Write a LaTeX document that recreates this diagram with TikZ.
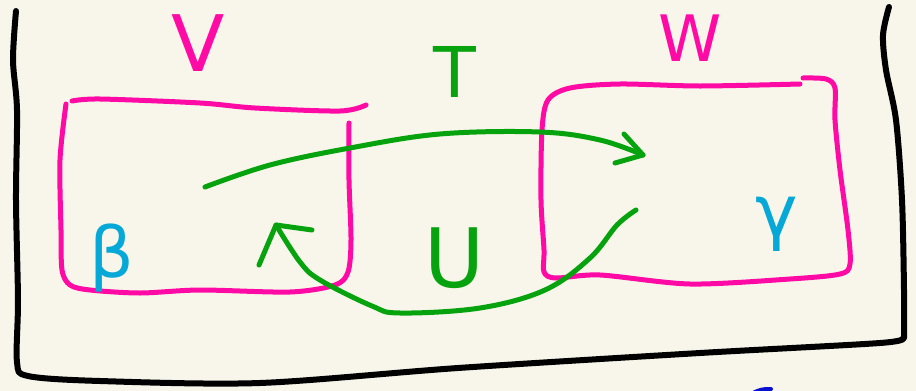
\documentclass[tikz,border=0pt]{standalone}
\usepackage{fontspec}
\setmainfont{DejaVu Sans}
\definecolor{paper}{HTML}{F8F6EA}
\definecolor{pinkink}{HTML}{FF0AA5}
\definecolor{greenink}{HTML}{07A30F}
\definecolor{blueink}{HTML}{05A8D6}
\definecolor{navyink}{HTML}{0A10D0}
\begin{document}
\begin{tikzpicture}[x=1pt,y=-1pt,line cap=round,line join=round,
  frame/.style={draw=black,line width=6pt},
  setbox/.style={draw=pinkink,line width=5pt},
  flow/.style={draw=greenink,line width=5pt},
  pinklabel/.style={text=pinkink,inner sep=0pt},
  greenlabel/.style={text=greenink,inner sep=0pt},
  bluelabel/.style={text=blueink,inner sep=0pt}]
\fill[paper] (0,0) rectangle (916,391);
\useasboundingbox (0,0) rectangle (916,391);
% outer frame
\draw[frame] plot[smooth,tension=0.5] coordinates {(16,11) (13,60) (17,110) (16,200) (18,300) (17,362) (28,376) (100,381) (260,383) (458,368) (700,353) (880,343) (903,338)};
\draw[frame] plot[smooth,tension=0.5] coordinates {(889,7) (883,35) (886,70) (896,120) (902,200) (904,290) (904,338)};
% set V
\draw[setbox] plot[smooth,tension=0.5] coordinates {(72,101) (100,99) (200,103) (255,108) (340,111) (366,105)};
\draw[setbox] plot[smooth,tension=0.5] coordinates {(66,104) (60,160) (61,230) (62,270) (70,285) (90,290) (140,293) (200,290) (290,292) (335,285) (348,272) (351,240) (349,180) (349,123)};
% set W
\draw[setbox] plot[smooth,tension=0.5] coordinates {(800,84) (700,86) (620,84) (570,88) (548,100) (542,130) (541,200) (544,250) (544,272) (556,278) (600,275) (690,284) (790,279) (840,274) (850,264) (848,230) (840,170) (835,120) (835,88) (826,79) (803,78)};
% labels
\node[pinklabel,font=\fontsize{78}{78}\selectfont] (v) at (198,43) {V};
\node[pinklabel,font=\fontsize{64}{64}\selectfont] (w) at (690,38) {W};
\node[greenlabel,font=\fontsize{70}{70}\selectfont] (t) at (455,72) {T};
\node[greenlabel,font=\fontsize{82}{82}\selectfont] (u) at (455,258) {U};
\node[bluelabel,font=\fontsize{70}{70}\selectfont] (b) at (112,258) {β};
\node[bluelabel,font=\fontsize{72}{72}\selectfont] (g) at (777,224) {γ};
% arrow V -> W
\coordinate (a1s) at (205,187);
\coordinate (a1t) at (643,155);
\draw[flow] plot[smooth,tension=0.6] coordinates {(a1s) (270,165) (350,148) (440,134) (540,132) (600,140) (a1t)};
\draw[flow] (624,134) -- (a1t) -- (615,163);
% arrow W -> V
\coordinate (a2s) at (636,210);
\coordinate (a2t) at (276,225);
\draw[flow] plot[smooth,tension=0.6] coordinates {(a2s) (617,225) (590,258) (545,290) (480,308) (400,313) (372,306) (320,280) (300,262) (a2t)};
\draw[flow] (259,265) -- (a2t) -- (312,230);
% stray blue mark at bottom edge
\draw[navyink,line width=4pt] (753,393) to[bend left=15] (771,389);
\end{tikzpicture}
\end{document}
